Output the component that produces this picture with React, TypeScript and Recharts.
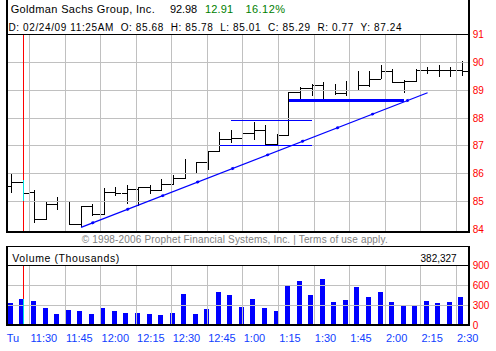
import React from 'react';
import { ComposedChart, Bar, XAxis, YAxis, ReferenceLine } from 'recharts';

const FONT = '"Liberation Sans", Arial, sans-serif';

const times = ['11:20','11:25','11:30','11:35','11:40','11:45','11:50','11:55','12:00','12:05','12:10','12:15','12:20','12:25','12:30','12:35','12:40','12:45','12:50','12:55','1:00','1:05','1:10','1:15','1:20','1:25','1:30','1:35','1:40','1:45','1:50','1:55','2:00','2:05','2:10','2:15','2:20','2:25','2:30','2:35'];
const opens = [85.53,85.68,85.33,84.35,84.87,85.00,84.17,84.81,84.53,85.33,85.29,85.42,85.48,85.40,85.62,85.81,86.00,86.41,86.78,87.24,87.26,87.44,87.55,87.03,87.38,88.92,89.06,89.18,88.98,88.88,89.00,89.18,89.39,89.66,89.27,89.30,89.70,89.72,89.72,89.70];
const highs = [85.97,85.78,85.40,85.00,85.15,85.01,84.83,84.90,85.46,85.50,85.57,85.52,85.60,85.81,85.93,86.52,86.41,86.78,87.49,87.58,87.49,87.87,87.75,87.42,88.93,89.12,89.24,89.30,89.24,89.33,89.70,89.70,89.90,89.78,89.36,89.75,89.84,89.90,89.84,90.06];
const lows = [85.31,85.01,84.22,84.33,84.68,84.15,84.07,84.48,84.50,85.18,84.90,84.82,85.27,85.36,85.60,85.80,86.00,86.14,86.78,87.10,86.87,87.20,87.03,87.00,87.36,88.64,88.80,88.62,88.82,88.80,89.00,89.12,89.39,89.27,88.91,89.30,89.60,89.48,89.48,89.51];
const closes = [85.68,85.29,84.35,84.87,85.00,84.17,84.81,84.53,85.33,85.29,85.42,85.48,85.40,85.62,85.81,86.00,86.41,86.78,87.24,87.26,87.44,87.55,87.03,87.38,88.92,89.06,89.18,88.98,88.88,89.00,89.18,89.39,89.66,89.27,89.30,89.70,89.72,89.72,89.70,89.66];
const volumes = [341,402,372,265,173,234,219,173,265,219,188,188,173,158,188,479,173,249,510,464,280,402,265,219,617,663,464,693,357,387,586,433,510,357,295,311,372,341,357,433];

const priceTicks = [84, 85, 86, 87, 88, 89, 90, 91];
const priceGrid = [85, 86, 87, 88, 89, 90];
const volTicks = [0, 300, 600, 900];
const volGrid = [300, 600];
const timeLabels = ['Tu','11:30','11:45','12:00','12:15','12:30','12:45','1:00','1:15','1:30','1:45','2:00','2:15','2:30'];
const gridTimes = timeLabels.slice(1);

const cursorTime = '11:25';
const trendLine = [{ t: '11:50', p: 84.06 }, { t: '2:20', p: 88.91 }];
const rangeTop = [{ t: '12:55', p: 87.92 }, { t: '1:30', p: 87.92 }];
const rangeBottom = [{ t: '12:50', p: 87.01 }, { t: '1:30', p: 87.01 }];
const supportLine = [{ t: '1:20', p: 88.62 }, { t: '2:10', p: 88.62 }];

const rows = times.map((t, i) => ({ t, o: opens[i], h: highs[i], l: lows[i], c: closes[i], v: volumes[i] }));
const tickPos = timeLabels.map((lab) => (lab === 'Tu' ? 0 : times.indexOf(lab)));
const gridPos = gridTimes.map((lab) => times.indexOf(lab));
const cursorIdx = times.indexOf(cursorTime);

const OhlcShape = (props: any) => {
  const { x, y, width, height, payload } = props;
  const cx = x + width / 2;
  const ppu = height / (payload.h - payload.l);
  const yO = y + (payload.h - payload.o) * ppu;
  const yC = y + (payload.h - payload.c) * ppu;
  return (
    <g stroke="#000" strokeWidth={1} shapeRendering="crispEdges">
      <line x1={cx} x2={cx} y1={y} y2={y + height} />
      <line x1={x} x2={cx} y1={yO} y2={yO} />
      <line x1={cx} x2={x + width} y1={yC} y2={yC} />
    </g>
  );
};

const VolShape = (props: any) => {
  const { x, y, width, height } = props;
  return <rect x={x - 1.1} y={y} width={width} height={height} fill="#0000ff" shapeRendering="crispEdges" />;
};

const RedTick = (props: any) => {
  const { x, y, payload } = props;
  return (
    <text x={x} y={y} dy={3.6} fill="#ff0000" fontSize={10} fontFamily={FONT} textAnchor="start">
      {payload.value}
    </text>
  );
};

const TimeTick = (props: any) => {
  const { x, y, payload } = props;
  const label = timeLabels[tickPos.indexOf(payload.value)];
  return (
    <text x={x + 0.8} y={y} dy={16.4} fill="#1040ff" fontSize={11} fontFamily={FONT} textAnchor="start">
      {label}
    </text>
  );
};

const W = 496;
const H = 351;

export default function App() {
  return (
    <div style={{ position: 'absolute', left: 0, top: 0, width: W, height: H, background: '#fff', overflow: 'hidden' }}>
      <div style={{ position: 'absolute', left: 0, top: 0 }}>
        <ComposedChart width={W} height={H} data={rows} margin={{ top: 34.75, right: 0, bottom: 119.5, left: 6 }} barCategoryGap={0}>
          <XAxis xAxisId="c" dataKey="t" type="category" hide />
          <XAxis xAxisId="g" type="number" domain={[0, times.length]} ticks={gridPos} hide />
          <YAxis yAxisId="p" orientation="right" width={28} domain={[83.91, 91]} ticks={priceTicks} interval={0}
            tick={<RedTick />} tickSize={0} tickMargin={4.7} axisLine={false} tickLine={false} />
          {priceGrid.map((v) => (
            <ReferenceLine key={'hp' + v} xAxisId="c" yAxisId="p" y={v} stroke="#c0c0c0" shapeRendering="crispEdges" />
          ))}
          {gridPos.map((k) => (
            <ReferenceLine key={'vp' + k} xAxisId="g" yAxisId="p" x={k} stroke="#c0c0c0" shapeRendering="crispEdges" />
          ))}
          <ReferenceLine xAxisId="c" yAxisId="p" x={cursorTime} stroke="#ff0000" shapeRendering="crispEdges" />
          <Bar xAxisId="c" yAxisId="p" dataKey={(d: any) => [d.l, d.h]} barSize={11.5} shape={OhlcShape} isAnimationActive={false} />
          <ReferenceLine xAxisId="c" yAxisId="p" segment={[{ x: cursorTime, y: lows[cursorIdx] }, { x: cursorTime, y: highs[cursorIdx] }]} stroke="#00e0e0" shapeRendering="crispEdges" />
          <ReferenceLine xAxisId="c" yAxisId="p" segment={[{ x: rangeTop[0].t, y: rangeTop[0].p }, { x: rangeTop[1].t, y: rangeTop[1].p }]} stroke="#0000ff" shapeRendering="crispEdges" />
          <ReferenceLine xAxisId="c" yAxisId="p" segment={[{ x: rangeBottom[0].t, y: rangeBottom[0].p }, { x: rangeBottom[1].t, y: rangeBottom[1].p }]} stroke="#0000ff" shapeRendering="crispEdges" />
          <ReferenceLine xAxisId="c" yAxisId="p" segment={[{ x: supportLine[0].t, y: supportLine[0].p }, { x: supportLine[1].t, y: supportLine[1].p }]} stroke="#0000ff" strokeWidth={3} shapeRendering="crispEdges" />
          <ReferenceLine xAxisId="c" yAxisId="p" segment={[{ x: trendLine[0].t, y: trendLine[0].p }, { x: trendLine[1].t, y: trendLine[1].p }]} stroke="#0000ff" strokeWidth={1.2} />
          <ReferenceLine xAxisId="c" yAxisId="p" segment={[{ x: trendLine[0].t, y: trendLine[0].p }, { x: trendLine[1].t, y: trendLine[1].p }]} stroke="#0000ff" strokeWidth={2.6} strokeDasharray="2.6 34.92" strokeDashoffset={26.3} />
        </ComposedChart>
      </div>
      <div style={{ position: 'absolute', left: 0, top: 0 }}>
        <ComposedChart width={W} height={H} data={rows} margin={{ top: 265.8, right: 0, bottom: 0, left: 6 }}>
          <XAxis xAxisId="g" type="number" domain={[0, times.length]} ticks={tickPos} interval={0} height={25.7}
            tick={<TimeTick />} tickSize={0} tickMargin={0} axisLine={false} tickLine={false} />
          <XAxis xAxisId="c" dataKey="t" type="category" orientation="top" hide />
          <YAxis yAxisId="v" orientation="right" width={28} domain={[0, 900]} ticks={volTicks} interval={0}
            tick={<RedTick />} tickSize={0} tickMargin={4.7} axisLine={false} tickLine={false} />
          {volGrid.map((v) => (
            <ReferenceLine key={'hv' + v} xAxisId="c" yAxisId="v" y={v} stroke="#c0c0c0" shapeRendering="crispEdges" />
          ))}
          {gridPos.map((k) => (
            <ReferenceLine key={'vv' + k} xAxisId="g" yAxisId="v" x={k} stroke="#c0c0c0" shapeRendering="crispEdges" />
          ))}
          <ReferenceLine xAxisId="c" yAxisId="v" x={cursorTime} stroke="#ff0000" shapeRendering="crispEdges" />
          <Bar xAxisId="c" yAxisId="v" dataKey="v" barSize={5} shape={VolShape} isAnimationActive={false} />
          <ReferenceLine xAxisId="c" yAxisId="v" segment={[{ x: cursorTime, y: 0 }, { x: cursorTime, y: volumes[cursorIdx] }]} stroke="#00e0e0" shapeRendering="crispEdges" />
        </ComposedChart>
      </div>
      <svg width={W} height={H} style={{ position: 'absolute', left: 0, top: 0, pointerEvents: 'none' }} fontFamily={FONT}>
        <g stroke="#000" shapeRendering="crispEdges">
          <line x1={7} x2={7} y1={0} y2={232.5} strokeWidth={2} />
          <line x1={469.2} x2={469.2} y1={0} y2={232.5} strokeWidth={2} />
          <line x1={6} x2={470} y1={34.5} y2={34.5} strokeWidth={1} />
          <line x1={6} x2={470} y1={231.5} y2={231.5} strokeWidth={2} />
          <line x1={6} x2={470} y1={246.5} y2={246.5} strokeWidth={1} />
          <line x1={7} x2={7} y1={246} y2={326.3} strokeWidth={2} />
          <line x1={469.2} x2={469.2} y1={246} y2={326.3} strokeWidth={2} />
          <line x1={6} x2={470} y1={265.5} y2={265.5} strokeWidth={1} />
          <line x1={6} x2={470} y1={325.3} y2={325.3} strokeWidth={2} />
        </g>
        <text x={10.7} y={13} fontSize={11} fill="#000" textLength={144} lengthAdjust="spacing">Goldman Sachs Group, Inc.</text>
        <text x={170} y={13} fontSize={11} fill="#000" textLength={27} lengthAdjust="spacing">92.98</text>
        <text x={205} y={13} fontSize={11} fill="#008000" textLength={28} lengthAdjust="spacing">12.91</text>
        <text x={245.5} y={13} fontSize={11} fill="#008000" textLength={39.5} lengthAdjust="spacing">16.12%</text>
        <text x={8.5} y={31} fontSize={10} fill="#000" textLength={393} lengthAdjust="spacing" style={{ whiteSpace: 'pre' }}>
          {'D: 02/24/09 11:25AM  O: 85.68  H: 85.78  L: 85.01  C: 85.29  R: 0.77  Y: 87.24'}
        </text>
        <text x={81.7} y={243.3} fontSize={10} fill="#808080" textLength={306} lengthAdjust="spacing">© 1998-2006 Prophet Financial Systems, Inc. | Terms of use apply.</text>
        <text x={12.3} y={262} fontSize={10.5} fill="#000" textLength={107} lengthAdjust="spacing">Volume (Thousands)</text>
        <text x={456.7} y={261.5} fontSize={10} fill="#000" textAnchor="end">382,327</text>
      </svg>
    </div>
  );
}
